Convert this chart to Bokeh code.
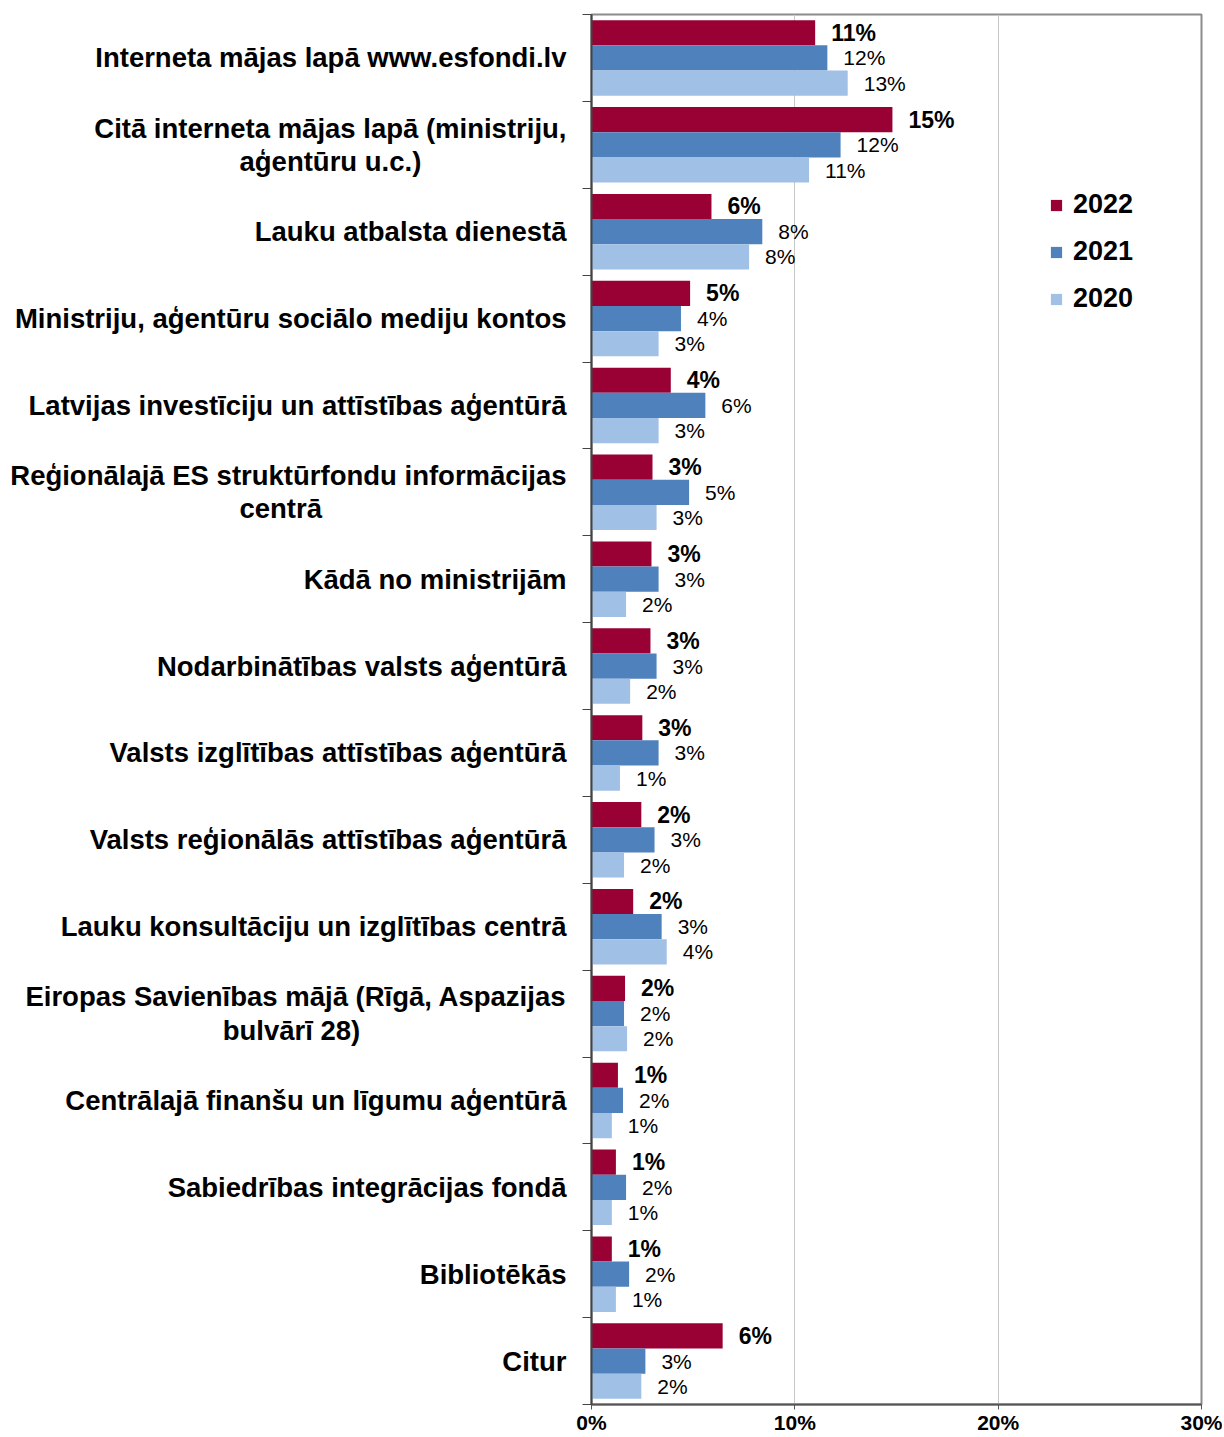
from bokeh.plotting import figure
from bokeh.models import (Range1d, FixedTicker, ColumnDataSource,
                          Legend, LegendItem, PrintfTickFormatter)
from bokeh.transform import dodge
from bokeh.core.properties import value
from bokeh.embed import file_html
from bokeh.resources import INLINE

categories = [
    "Interneta mājas lapā www.esfondi.lv",
    "Citā interneta mājas lapā (ministriju,\naģentūru u.c.)",
    "Lauku atbalsta dienestā",
    "Ministriju, aģentūru sociālo mediju kontos",
    "Latvijas investīciju un attīstības aģentūrā",
    "Reģionālajā ES struktūrfondu informācijas\ncentrā",
    "Kādā no ministrijām",
    "Nodarbinātības valsts aģentūrā",
    "Valsts izglītības attīstības aģentūrā",
    "Valsts reģionālās attīstības aģentūrā",
    "Lauku konsultāciju un izglītības centrā",
    "Eiropas Savienības mājā (Rīgā, Aspazijas\nbulvārī 28)",
    "Centrālajā finanšu un līgumu aģentūrā",
    "Sabiedrības integrācijas fondā",
    "Bibliotēkās",
    "Citur",
]
series_names = ["2022", "2021", "2020"]
v2022 = [11.0, 14.8, 5.9, 4.85, 3.9, 3.0, 2.95, 2.9, 2.5, 2.45, 2.05, 1.65, 1.3, 1.2, 1.0, 6.45]
v2021 = [11.6, 12.25, 8.4, 4.4, 5.6, 4.8, 3.3, 3.2, 3.3, 3.1, 3.45, 1.6, 1.55, 1.7, 1.85, 2.65]
v2020 = [12.6, 10.7, 7.75, 3.3, 3.3, 3.2, 1.7, 1.9, 1.4, 1.6, 3.7, 1.75, 1.0, 1.0, 1.2, 2.45]
lab2022 = ["11%", "15%", "6%", "5%", "4%", "3%", "3%", "3%", "3%", "2%", "2%", "2%", "1%", "1%", "1%", "6%"]
lab2021 = ["12%", "12%", "8%", "4%", "6%", "5%", "3%", "3%", "3%", "3%", "3%", "2%", "2%", "2%", "2%", "3%"]
lab2020 = ["13%", "11%", "8%", "3%", "3%", "3%", "2%", "2%", "1%", "2%", "4%", "2%", "1%", "1%", "1%", "2%"]
x_ticks = [0, 10, 20, 30]

colors = ["#990033", "#4f81bd", "#a1c0e5"]
FONT = "Liberation Sans"

# layout: trailing no-break spaces to visually centre the second line of wrapped labels
second_line_pad = {1: 19, 5: 32, 11: 27}


def display_label(i, text):
    if i in second_line_pad:
        return text + "\u00a0" * second_line_pad[i]
    return text


n = len(categories)
ypos = [n - 0.5 - i for i in range(n)]
bounds = list(range(n + 1))
source = ColumnDataSource(dict(y=ypos, cat=categories,
                               v2022=v2022, v2021=v2021, v2020=v2020,
                               l2022=lab2022, l2021=lab2021, l2020=lab2020))

p = figure(width=1222, height=1436, output_backend="svg", toolbar_location=None,
           x_range=Range1d(0, 30), y_range=Range1d(0, n),
           min_border_left=591, min_border_right=21, min_border_top=14, min_border_bottom=32)

bh = 0.29
offsets = [bh, 0.0, -bh]
vals = ["v2022", "v2021", "v2020"]
labs = ["l2022", "l2021", "l2020"]
renderers = []
for k in range(3):
    r = p.hbar(y=dodge("y", offsets[k], range=p.y_range), right=vals[k], left=0,
               height=bh, source=source, fill_color=colors[k], line_color=None)
    renderers.append(r)
    p.text(x=vals[k], y=dodge("y", offsets[k], range=p.y_range), text=labs[k],
           source=source, x_offset=16, text_baseline="middle", text_align="left",
           text_font=value(FONT), text_font_style="bold" if k == 0 else "normal",
           text_font_size="23px" if k == 0 else "21px", text_color="black")

# x axis
xa = p.xaxis[0]
xa.ticker = FixedTicker(ticks=x_ticks)
xa.formatter = PrintfTickFormatter(format="%d%%")
xa.major_label_text_font = FONT
xa.major_label_text_font_style = "bold"
xa.major_label_text_font_size = "21px"
xa.major_label_text_color = "black"
xa.axis_line_color = "#555555"
xa.axis_line_width = 2
xa.major_tick_line_color = "#555555"
xa.major_tick_out = 5
xa.major_tick_in = 0
xa.minor_tick_line_color = None
xa.major_label_standoff = 1

# y axis: labels at category centres, minor ticks at category boundaries
ya = p.yaxis[0]
ya.ticker = FixedTicker(ticks=ypos, minor_ticks=bounds)
ya.major_label_overrides = {y: display_label(i, c) for i, (y, c) in enumerate(zip(ypos, categories))}
ya.axis_line_color = "#444444"
ya.axis_line_width = 2
ya.major_tick_line_color = None
ya.major_tick_out = 0
ya.major_tick_in = 0
ya.minor_tick_line_color = "#444444"
ya.minor_tick_line_width = 1
ya.minor_tick_out = 9
ya.minor_tick_in = 0
ya.major_label_standoff = 16
ya.major_label_text_font = FONT
ya.major_label_text_font_style = "bold"
ya.major_label_text_font_size = "27.5px"
ya.major_label_text_color = "black"
ya.major_label_text_line_height = 1.07

p.xgrid.ticker = FixedTicker(ticks=x_ticks)
p.xgrid.grid_line_color = "#c8c8c8"
p.xgrid.grid_line_width = 1
p.ygrid.visible = False

p.outline_line_color = "#8c8c8c"
p.outline_line_width = 2

legend = Legend(items=[LegendItem(label=series_names[k], renderers=[renderers[k]]) for k in range(3)],
                location=(458, 1090), padding=0, margin=0, spacing=16,
                glyph_width=14, glyph_height=14, label_height=28, label_standoff=10,
                label_text_font=FONT, label_text_font_style="bold",
                label_text_font_size="27px", label_text_color="black",
                border_line_color=None, background_fill_alpha=0)
p.add_layout(legend)

open("out.html", "w").write(file_html(p, INLINE))
